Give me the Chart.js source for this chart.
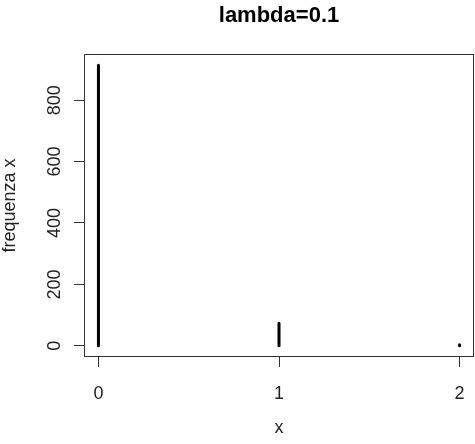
<!DOCTYPE html>
<html>
<head>
<meta charset="utf-8">
<title>lambda=0.1</title>
<script src="https://cdn.jsdelivr.net/npm/chart.js@4/dist/chart.umd.min.js"></script>
<style>
  html, body { margin: 0; padding: 0; background: #fff; }
  #wrap { width: 475px; height: 444px; }
</style>
</head>
<body>
<div id="wrap"><canvas id="freqChart" width="475" height="444"></canvas></div>
<script>
// observed counts for x = 0, 1, 2
const xValues = [0, 1, 2];
const frequencies = [914, 73, 3];
const yTickValues = [0, 200, 400, 600, 800];
const xTickValues = [0, 1, 2];

const chartTitle = 'lambda=0.1';
const xLabel = 'x';
const yLabel = 'frequenza x';

const textFont = '"Liberation Sans", Arial, sans-serif';
const inkColor = '#222';

// type="h" style: one vertical segment per x, split by null gaps
const spikes = [];
xValues.forEach(function (x, i) {
    spikes.push({ x: x, y: 0 });
    spikes.push({ x: x, y: frequencies[i] });
    spikes.push({ x: x, y: null });
});

// R pads the data range by 4% on each side
const yTop = Math.max(...frequencies);
const yMin = -0.04 * yTop;
const yMax = 1.04 * yTop;
const xMin = -0.04 * 2;
const xMax = 2 + 0.04 * 2;

const frameAndLabels = {
    id: 'frameAndLabels',
    afterDraw(chart) {
        const ctx = chart.ctx;
        const a = chart.chartArea;
        ctx.save();

        // box around the plot region
        ctx.strokeStyle = '#333';
        ctx.lineWidth = 1;
        ctx.strokeRect(a.left + 0.5, a.top + 0.5, a.right - a.left - 1, a.bottom - a.top - 1);

        // y tick labels, rotated like las=0
        const ys = chart.scales.y;
        ctx.fillStyle = inkColor;
        ctx.font = '18px ' + textFont;
        ctx.textAlign = 'center';
        ctx.textBaseline = 'alphabetic';
        yTickValues.forEach(function (v) {
            ctx.save();
            ctx.translate(60, ys.getPixelForValue(v));
            ctx.rotate(-Math.PI / 2);
            ctx.fillText(String(v), 0, 0);
            ctx.restore();
        });

        // main title
        ctx.fillStyle = '#000';
        ctx.font = 'bold 22px ' + textFont;
        ctx.fillText(chartTitle, (a.left + a.right) / 2, 22);
        ctx.restore();
    }
};

new Chart(document.getElementById('freqChart'), {
    type: 'scatter',
    data: {
        datasets: [{
            data: spikes,
            showLine: true,
            spanGaps: false,
            borderColor: '#000',
            borderWidth: 3,
            borderCapStyle: 'round',
            pointRadius: 0,
            pointHoverRadius: 0
        }]
    },
    options: {
        responsive: false,
        animation: false,
        events: [],
        layout: { padding: { top: 54, right: 1, left: 0, bottom: 0 } },
        plugins: {
            legend: { display: false },
            tooltip: { enabled: false },
            title: { display: false }
        },
        scales: {
            x: {
                type: 'linear',
                min: xMin,
                max: xMax,
                afterBuildTicks: function (scale) {
                    scale.ticks = xTickValues.map(v => ({ value: v }));
                },
                afterFit: function (scale) {
                    scale.height = 87;
                    // labels sit well inside the padded range, no edge room needed
                    scale.paddingLeft = 0;
                    scale.paddingRight = 0;
                },
                border: { display: false },
                grid: { drawOnChartArea: false, drawTicks: true, tickLength: 10, color: '#333', lineWidth: 1 },
                ticks: {
                    font: { family: textFont, size: 18 },
                    color: inkColor,
                    padding: 16,
                    maxRotation: 0,
                    autoSkip: false,
                    callback: v => String(v)
                },
                title: {
                    display: true,
                    text: xLabel,
                    color: inkColor,
                    font: { family: textFont, size: 18, lineHeight: 1.1 },
                    padding: { top: 0, bottom: 6 }
                }
            },
            y: {
                type: 'linear',
                min: yMin,
                max: yMax,
                afterBuildTicks: function (scale) {
                    scale.ticks = yTickValues.map(v => ({ value: v }));
                },
                afterFit: function (scale) {
                    scale.width = 84;
                    scale.paddingTop = 0;
                    scale.paddingBottom = 0;
                },
                border: { display: false },
                grid: { drawOnChartArea: false, drawTicks: true, tickLength: 10, color: '#333', lineWidth: 1 },
                ticks: { display: false },
                title: {
                    display: true,
                    text: yLabel,
                    color: inkColor,
                    font: { family: textFont, size: 18, lineHeight: 1.1 },
                    padding: { top: 0, bottom: 0 }
                }
            }
        }
    },
    plugins: [frameAndLabels]
});
</script>
</body>
</html>
